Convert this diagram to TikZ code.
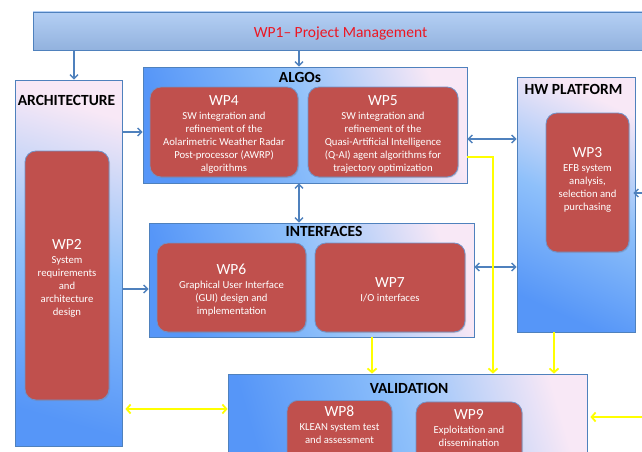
\documentclass[tikz,border=0pt]{standalone}
\usepackage{fontspec}
\setmainfont{Carlito}
\usetikzlibrary{arrows.meta,shadows}

\definecolor{wpred}{RGB}{192,80,77}
\definecolor{wpedge}{RGB}{112,146,200}
\definecolor{frame}{RGB}{79,129,189}
\definecolor{gblue}{RGB}{86,150,248}
\definecolor{gmid}{RGB}{142,192,250}
\definecolor{gpink}{RGB}{248,232,246}
\definecolor{barTop}{RGB}{180,207,244}
\definecolor{barBot}{RGB}{146,178,222}
\definecolor{pmred}{RGB}{236,22,34}
\definecolor{linkblue}{RGB}{79,129,189}
\definecolor{linkyellow}{RGB}{255,255,0}

% heading line of a work-package box
\newcommand\wpnum[1]{{\fontsize{15.5}{17}\selectfont\rule{0pt}{15pt}#1}\\[1pt]}

\tikzset{
  % shading angle: 45 degree isolines for a box of the given width/height ratio
  group/.style={draw=frame, line width=0.8pt, inner sep=0pt,
    bottom color=gblue, top color=gpink, middle color=gmid, shading angle=#1,
    drop shadow={opacity=0.3, shadow xshift=1.2pt, shadow yshift=-1.2pt}},
  grouptitle/.style={font=\bfseries\fontsize{15.5}{17}\selectfont, text=black, inner sep=0pt},
  wp/.style={draw=wpedge, line width=0.8pt, fill=wpred, rounded corners=11pt,
    inner sep=0pt, text=white, align=center, font=\fontsize{10.7}{13}\selectfont,
    drop shadow={opacity=0.25, shadow xshift=1pt, shadow yshift=-1pt}},
  wptext/.style={text=white, align=center, inner sep=0pt, font=\fontsize{10.7}{13}\selectfont},
  pmbar/.style={draw=frame, line width=0.8pt, inner sep=0pt,
    top color=barTop, bottom color=barBot, text=pmred, font=\fontsize{15.5}{17}\selectfont,
    text height=12.6pt, text depth=0pt,
    drop shadow={opacity=0.25, shadow xshift=1pt, shadow yshift=-1pt}},
  tipb/.tip={Straight Barb[length=4pt,width=8pt,line width=1.4pt]},
  tipy/.tip={Straight Barb[length=4pt,width=9pt,line width=1.8pt]},
  link/.style={draw=linkblue, line width=1.5pt, -tipb},
  dlink/.style={draw=linkblue, line width=1.5pt, tipb-tipb},
  ylink/.style={draw=linkyellow, line width=2pt, -tipy},
  dylink/.style={draw=linkyellow, line width=2pt, tipy-tipy},
}

\begin{document}
\begin{tikzpicture}[x=1pt,y=-1pt]
\useasboundingbox (0,0) rectangle (642,452);
\clip (0,0) rectangle (642,452);

% project management bar
\node[pmbar, minimum width=615, minimum height=38] (wp1) at (340.5,31)
  {WP1– Project Management};

% work-package groups
\node[group=-16.3, minimum width=107, minimum height=366] (arch) at (68.5,263) {};
\node[group=-70.3, minimum width=324, minimum height=116] (algos) at (305,125) {};
\node[group=-24.8, minimum width=118, minimum height=255] (hw) at (576,204.5) {};
\node[group=-70.7, minimum width=325, minimum height=114] (intf) at (311.5,280) {};
\node[group=-73.5, minimum width=359, minimum height=106] (val) at (407.5,427) {};

\node[grouptitle] (archT) at (66.5,100) {ARCHITECTURE};
\node[grouptitle] (algosT) at (300,77) {ALGOs};
\node[grouptitle] (hwT) at (573.5,89) {HW PLATFORM};
\node[grouptitle] (intfT) at (324,231) {INTERFACES};
\node[grouptitle] (valT) at (409,388) {VALIDATION};

% work packages
\node[wp, minimum width=84, minimum height=249] (wp2) at (67,275.5)
  {\wpnum{WP2}System\\requirements\\and\\architecture\\design};
\node[wp, minimum width=148, minimum height=90] (wp4) at (224,132)
  {\wpnum{WP4}SW integration and\\refinement of the\\Aolarimetric Weather Radar\\Post-processor (AWRP)\\algorithms};
\node[wp, minimum width=150, minimum height=90] (wp5) at (383,132)
  {\wpnum{WP5}SW integration and\\refinement of the\\Quasi-Artificial Intelligence\\(Q-AI) agent algorithms for\\trajectory optimization};
\node[wp, minimum width=83, minimum height=139] (wp3) at (587.5,182.5)
  {\wpnum{WP3}EFB system\\analysis,\\selection and\\purchasing\\[-1pt]};
\node[wp, minimum width=149, minimum height=89] (wp6) at (231.5,287.5)
  {\wpnum{WP6}Graphical User Interface\\(GUI) design and\\implementation};
\node[wp, minimum width=150, minimum height=89] (wp7) at (390,287.5)
  {\wpnum{WP7}I/O interfaces};
\node[wp, minimum width=105, minimum height=80, anchor=north] (wp8) at (339.5,400) {};
\node[wptext, anchor=north] (wp8t) at ([yshift=-1pt]wp8.north)
  {\wpnum{WP8}KLEAN system test\\and assessment};
\node[wp, minimum width=106, minimum height=80, anchor=north] (wp9) at (469,401.5) {};
\node[wptext, anchor=north] (wp9t) at ([yshift=-3pt]wp9.north)
  {\wpnum{WP9}Exploitation and\\dissemination};

% management links
\draw[link] ([xshift=5.5pt]arch.north |- wp1.south) -- ([xshift=5.5pt]arch.north);
\draw[link] ([xshift=-6pt]algos.north |- wp1.south) -- ([xshift=-6pt]algos.north);

% architecture feeds
\draw[link] ([yshift=-7pt]algos.west -| arch.east) -- ([yshift=-7pt]algos.west);
\draw[link] ([yshift=-9pt]intf.west -| arch.east) -- ([yshift=-9pt]intf.west);

% exchanges between groups
\draw[dlink] ([xshift=-6pt]algos.south) -- ([xshift=-6pt]algos.south |- intf.north);
\draw[dlink] ([yshift=-14pt]algos.east) -- ([yshift=-14pt]algos.east -| hw.west);
\draw[dlink] ([yshift=13pt]intf.east) -- ([yshift=13pt]intf.east -| hw.west);
\coordinate (hwin) at (660,193);
\draw[link, shorten >=-2pt] (hwin) -- (hwin -| hw.east);

% validation inputs
\draw[ylink] ([xshift=60.5pt]intf.south) -- ([xshift=60.5pt]intf.south |- val.north);
\coordinate (algoturn) at (493,157);
\draw[ylink] (algoturn -| algos.east) -- (algoturn) -- (algoturn |- val.north);
\draw[ylink] ([xshift=-22pt]hw.south) -- ([xshift=-22pt]hw.south |- val.north);
\draw[dylink, shorten <=3pt] ([yshift=18pt]val.west -| arch.east) -- ([yshift=18pt]val.west);
\coordinate (valin) at (660,417);
\draw[ylink, shorten >=3pt] (valin) -- (valin -| val.east);
\end{tikzpicture}
\end{document}
